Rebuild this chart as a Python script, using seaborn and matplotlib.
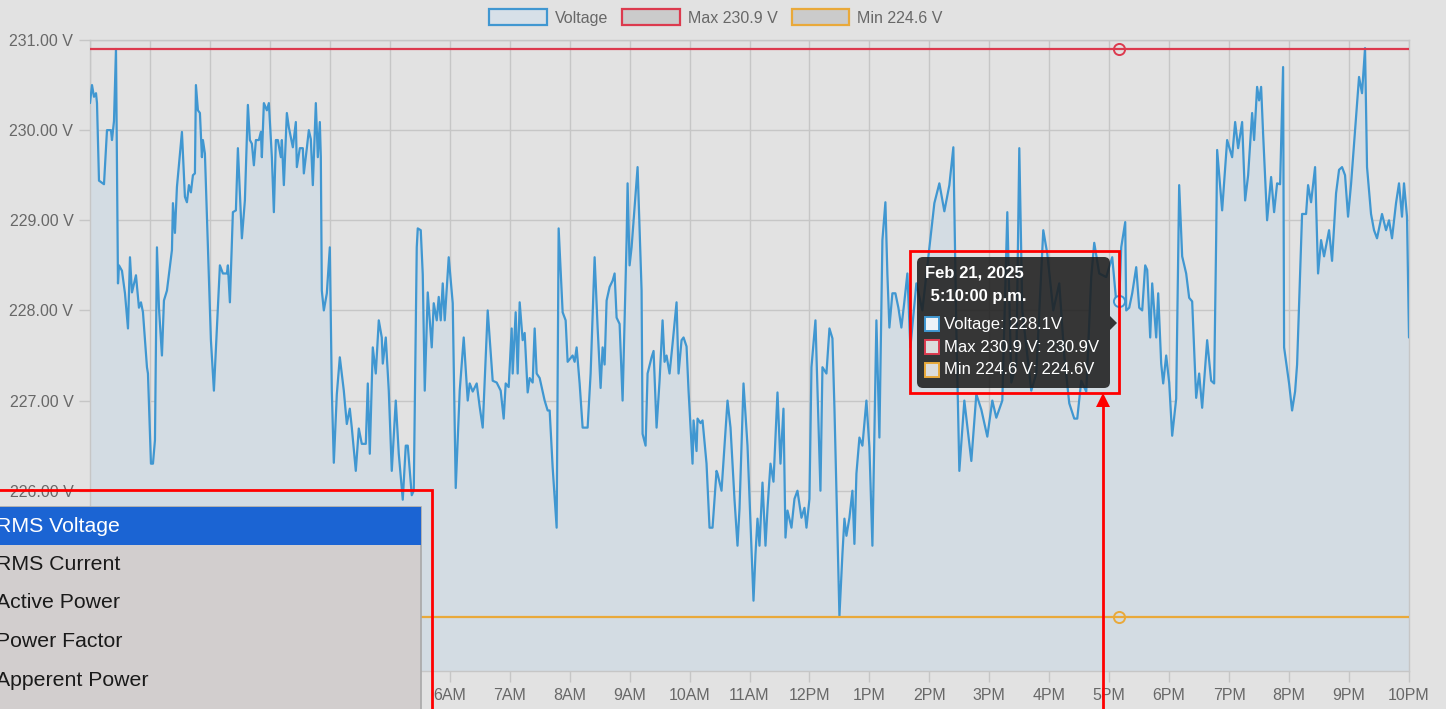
import numpy as np
import pandas as pd
import matplotlib
matplotlib.use("Agg")
import matplotlib.pyplot as plt
import seaborn as sns
from matplotlib.patches import Rectangle, FancyBboxPatch, Polygon, Patch

# RMS voltage readings, minutes after midnight (Feb 21, 2025)
minutes = [
    0, 2, 4, 6, 7, 9, 14, 17, 21, 22, 24, 26, 28, 29, 32, 35, 38, 40, 42, 46,
    49, 51, 53, 57, 58, 61, 63, 65, 67, 69, 72, 74, 77, 82, 83, 85, 87, 92, 95, 97,
    99, 101, 103, 105, 106, 108, 110, 112, 113, 115, 118, 121, 124, 130, 133, 137, 138, 140, 143, 146,
    148, 152, 155, 158, 160, 162, 164, 166, 169, 171, 172, 174, 177, 179, 182, 184, 186, 188, 191, 192,
    194, 197, 199, 203, 206, 207, 210, 213, 214, 217, 219, 221, 223, 226, 228, 230, 231, 232, 234, 237,
    240, 242, 244, 247, 250, 254, 257, 260, 262, 266, 269, 272, 276, 278, 280, 283, 286, 289, 292, 293,
    296, 299, 302, 306, 309, 313, 316, 318, 322, 324, 327, 328, 331, 333, 335, 338, 342, 344, 347, 349,
    351, 353, 355, 359, 363, 366, 370, 374, 378, 380, 383, 387, 390, 393, 398, 403, 407, 411, 414, 416,
    419, 422, 423, 426, 428, 430, 433, 435, 438, 440, 443, 445, 447, 450, 455, 458, 460, 463, 467, 469,
    473, 476, 478, 483, 485, 487, 490, 493, 498, 501, 505, 508, 511, 513, 515, 517, 520, 523, 525, 527,
    530, 533, 537, 538, 540, 542, 548, 552, 553, 556, 558, 562, 564, 567, 570, 573, 575, 577, 580, 583,
    587, 589, 592, 594, 597, 599, 603, 604, 607, 608, 611, 613, 617, 620, 623, 627, 628, 632, 638, 641,
    645, 648, 650, 654, 658, 664, 666, 668, 670, 673, 676, 678, 681, 684, 688, 691, 694, 696, 698, 702,
    705, 708, 712, 715, 717, 720, 722, 726, 728, 731, 733, 737, 740, 743, 745, 750, 753, 755, 757, 760,
    763, 765, 767, 770, 773, 777, 780, 783, 787, 790, 793, 796, 798, 800, 803, 806, 809, 812, 815, 818,
    821, 827, 833, 838, 845, 850, 855, 860, 864, 867, 870, 875, 882, 887, 892, 898, 903, 907, 913, 918,
    922, 927, 930, 933, 942, 947, 954, 958, 964, 970, 975, 980, 985, 988, 992, 997, 1002, 1005, 1010, 1017,
    1023, 1027, 1030, 1032, 1036, 1037, 1040, 1043, 1047, 1050, 1053, 1056, 1058, 1061, 1063, 1067, 1069, 1072, 1074, 1077,
    1080, 1083, 1087, 1090, 1093, 1097, 1100, 1103, 1107, 1110, 1113, 1118, 1122, 1125, 1127, 1128, 1133, 1138, 1143, 1146,
    1149, 1153, 1156, 1159, 1163, 1165, 1168, 1170, 1172, 1174, 1178, 1182, 1185, 1188, 1191, 1194, 1195, 1200, 1203, 1206,
    1208, 1213, 1217, 1219, 1222, 1226, 1229, 1232, 1235, 1240, 1243, 1247, 1250, 1253, 1256, 1259, 1262, 1266, 1270, 1273,
    1276, 1278, 1282, 1285, 1288, 1293, 1297, 1300, 1303, 1307, 1310, 1313, 1315, 1318, 1320,
]
volts = [
    230.30, 230.50, 230.37, 230.41, 230.30, 229.44, 229.40, 230.00, 230.00, 229.89, 230.10, 230.90, 228.30, 228.50, 228.44, 228.19, 227.80, 228.59, 228.20, 228.39,
    228.03, 228.09, 227.98, 227.37, 227.30, 226.30, 226.30, 226.56, 228.70, 228.03, 227.50, 228.11, 228.22, 228.67, 229.19, 228.86, 229.37, 229.98, 229.26, 229.20,
    229.39, 229.31, 229.50, 229.52, 230.50, 230.22, 230.19, 229.70, 229.89, 229.74, 228.70, 227.67, 227.11, 228.50, 228.41, 228.41, 228.50, 228.09, 229.09, 229.11,
    229.80, 228.80, 229.22, 230.28, 229.89, 229.85, 229.61, 229.89, 229.89, 229.98, 229.70, 230.30, 230.22, 230.30, 229.70, 229.09, 229.89, 229.89, 229.70, 229.89,
    229.39, 230.19, 230.03, 229.81, 230.09, 229.59, 229.80, 229.80, 229.52, 229.80, 230.00, 229.90, 229.39, 230.30, 229.70, 230.09, 229.70, 228.22, 228.00, 228.19,
    228.70, 227.11, 226.31, 227.07, 227.48, 227.11, 226.74, 226.91, 226.70, 226.22, 226.69, 226.52, 226.52, 227.19, 226.41, 227.59, 227.30, 227.89, 227.70, 227.41,
    227.70, 227.11, 226.22, 227.00, 226.41, 225.90, 226.50, 226.50, 225.95, 226.00, 228.70, 228.91, 228.89, 228.40, 227.11, 228.20, 227.59, 228.08, 227.89, 228.15,
    227.89, 228.30, 227.89, 228.59, 228.08, 226.03, 227.11, 227.70, 227.00, 227.19, 227.10, 227.19, 226.93, 226.70, 228.00, 227.22, 227.20, 227.11, 226.80, 227.19,
    227.15, 227.80, 227.30, 227.98, 227.30, 228.09, 227.67, 227.75, 227.09, 227.25, 227.20, 227.80, 227.30, 227.25, 227.00, 226.89, 226.89, 226.26, 225.59, 228.91,
    227.98, 227.89, 227.43, 227.50, 227.43, 227.59, 227.19, 226.70, 226.70, 227.30, 228.59, 227.81, 227.14, 227.59, 227.40, 228.11, 228.26, 228.33, 228.41, 227.92,
    227.85, 227.00, 228.78, 229.41, 228.50, 228.70, 229.59, 228.22, 226.63, 226.50, 227.30, 227.48, 227.55, 226.70, 227.22, 227.89, 227.43, 227.50, 227.30, 227.63,
    228.09, 227.30, 227.67, 227.70, 227.60, 227.11, 226.30, 226.78, 226.44, 226.80, 226.75, 226.78, 226.30, 225.59, 225.59, 226.22, 226.19, 226.00, 227.00, 226.70,
    225.90, 225.39, 225.80, 227.19, 226.50, 224.78, 225.30, 225.69, 225.39, 226.09, 225.39, 225.80, 226.30, 226.10, 227.09, 226.30, 226.91, 225.48, 225.78, 225.59,
    225.91, 226.00, 225.70, 225.81, 225.59, 225.91, 227.37, 227.89, 227.14, 226.00, 227.37, 227.30, 227.80, 227.69, 226.92, 224.61, 225.30, 225.69, 225.50, 225.70,
    226.00, 225.41, 226.19, 226.59, 226.50, 227.00, 226.48, 225.39, 227.89, 226.59, 228.78, 229.20, 228.40, 227.81, 228.19, 228.19, 228.03, 227.81, 228.10, 228.41,
    227.59, 228.30, 228.00, 228.50, 229.19, 229.41, 229.10, 229.39, 229.81, 227.80, 226.22, 227.00, 226.33, 227.07, 226.90, 226.60, 227.00, 226.81, 227.00, 229.09,
    227.20, 227.40, 229.80, 228.00, 227.11, 227.30, 228.89, 228.63, 228.00, 228.30, 227.50, 226.97, 226.80, 226.80, 227.22, 227.10, 228.37, 228.75, 228.41, 228.37,
    228.59, 228.10, 228.10, 228.70, 228.98, 228.00, 228.03, 228.19, 228.48, 228.03, 228.00, 228.50, 228.45, 227.70, 228.30, 227.70, 228.19, 227.41, 227.19, 227.50,
    227.20, 226.61, 227.02, 229.39, 228.60, 228.41, 228.14, 228.10, 227.03, 227.30, 226.92, 227.67, 227.22, 227.19, 228.78, 229.78, 229.11, 229.89, 229.70, 230.09,
    229.80, 230.09, 229.22, 229.50, 230.19, 229.89, 230.48, 230.33, 230.48, 229.96, 229.00, 229.48, 229.09, 229.41, 229.40, 230.70, 227.59, 227.19, 226.89, 227.10,
    227.40, 229.07, 229.07, 229.39, 229.20, 229.59, 228.41, 228.78, 228.60, 228.89, 228.55, 229.30, 229.56, 229.59, 229.50, 229.04, 229.40, 230.00, 230.59, 230.41,
    230.91, 229.59, 229.07, 228.89, 228.80, 229.07, 228.89, 229.00, 228.80, 229.19, 229.41, 229.04, 229.41, 229.04, 227.70,
]

max_v = 230.9
min_v = 224.6
hover_minute = 17 * 60 + 10
hover_volt = 228.1

hour_labels = ["12AM", "1AM", "2AM", "3AM", "4AM", "5AM", "6AM", "7AM", "8AM", "9AM", "10AM", "11AM",
               "12PM", "1PM", "2PM", "3PM", "4PM", "5PM", "6PM", "7PM", "8PM", "9PM", "10PM"]
y_ticks = [224, 225, 226, 227, 228, 229, 230, 231]
legend_labels = ["Voltage", "Max 230.9 V", "Min 224.6 V"]
tooltip_title = ["Feb 21, 2025", " 5:10:00 p.m."]
tooltip_rows = ["Voltage: 228.1V", "Max 230.9 V: 230.9V", "Min 224.6 V: 224.6V"]
menu_items = ["RMS Voltage", "RMS Current", "Active Power", "Power Factor", "Apperent Power"]

# colours
bg = "#e2e2e2"
fill_c = "#d3dce3"
grid_c = "#c6c6c6"
line_c = "#4097d1"
max_c = "#dc3a4e"
min_c = "#e9a93a"
txt_c = "#686868"

sns.set_style("whitegrid")
plt.rcParams["font.family"] = ["Liberation Sans", "DejaVu Sans"]

W, H = 1446, 709
fig = plt.figure(figsize=(W / 100, H / 100), dpi=100, facecolor=bg)
ax = fig.add_axes([90 / W, 1 - 671 / H, 1319 / W, 631 / H], facecolor=bg)

df = pd.DataFrame({"hour": np.array(minutes) / 60, "volt": volts})
ax.fill_between(df["hour"], df["volt"], y_ticks[0], color=fill_c, lw=0, zorder=1)
sns.lineplot(data=df, x="hour", y="volt", ax=ax, color=line_c, lw=1.6, zorder=3)
ax.axhline(max_v, color=max_c, lw=1.6, zorder=4)
ax.axhline(min_v, color=min_c, lw=1.6, zorder=4)

hover_h = hover_minute / 60
ax.plot(hover_h, max_v, "o", ms=8, mfc="none", mec=max_c, mew=1.4, zorder=5)
ax.plot(hover_h, min_v, "o", ms=8, mfc="none", mec=min_c, mew=1.4, zorder=5)
ax.plot(hover_h, hover_volt, "o", ms=8, mfc="#dbe6ef", mec=line_c, mew=1.4, zorder=5)

ax.set_xlim(0, 22)
ax.set_ylim(y_ticks[0], y_ticks[-1])
ax.set_xticks(range(len(hour_labels)))
ax.set_xticklabels(hour_labels)
ax.set_yticks(y_ticks)
ax.set_yticklabels([f"{v:.2f} V" for v in y_ticks])
ax.set_xlabel("")
ax.set_ylabel("")
ax.grid(True, color=grid_c, lw=1)
ax.tick_params(axis="both", length=8, width=1, color=grid_c, labelcolor=txt_c, labelsize=11.5, pad=4)
ax.tick_params(axis="x", bottom=True)
ax.tick_params(axis="y", left=True)
for s in ax.spines.values():
    s.set_color(grid_c)
    s.set_linewidth(1)

handles = [
    Patch(facecolor="#d7e0e8", edgecolor=line_c, lw=1.6),
    Patch(facecolor="#cbcbcb", edgecolor=max_c, lw=1.6),
    Patch(facecolor="#cbcbcb", edgecolor=min_c, lw=1.6),
]
fig.legend(handles, legend_labels, loc="upper center", bbox_to_anchor=(716 / W, 1 + 5 / H),
           ncol=3, frameon=False, fontsize=11.5, labelcolor=txt_c, handlelength=3.6,
           handleheight=1.15, handletextpad=0.5, columnspacing=0.9)

# overlay in pixel coordinates for tooltip, menu and annotations
ov = fig.add_axes([0, 0, 1, 1], zorder=10)
ov.set_xlim(0, W)
ov.set_ylim(H, 0)
ov.axis("off")
ov.patch.set_alpha(0)

# tooltip
ov.add_patch(FancyBboxPatch((917, 257), 193, 131, boxstyle="round,pad=0,rounding_size=6",
                            fc="#1e1e1e", ec="none", alpha=0.88))
ov.add_patch(Polygon([(1110, 316), (1117, 323), (1110, 330)], closed=True, fc="#1e1e1e", ec="none", alpha=0.88))
ov.text(925, 273, tooltip_title[0], color="white", fontsize=12, fontweight="bold", va="center")
ov.text(926, 297, tooltip_title[1], color="white", fontsize=12, fontweight="bold", va="center")
sq_faces = ["#eef3f8", "#dcdcdc", "#dcdcdc"]
sq_edges = [line_c, max_c, min_c]
for i, row in enumerate(tooltip_rows):
    yy = 324 + i * 23
    ov.add_patch(Rectangle((925, yy - 7), 14, 14, fc=sq_faces[i], ec=sq_edges[i], lw=1.4))
    ov.text(944, yy, row, color="white", fontsize=12, va="center")

# red annotation around tooltip with arrow
ov.add_patch(Rectangle((910, 251), 209, 142, fill=False, ec="red", lw=2))
ov.plot([1103, 1103], [H, 405], color="red", lw=2)
ov.add_patch(Polygon([(1096, 407), (1103, 393), (1110, 407)], closed=True, fc="red", ec="none"))

# dropdown menu
ov.add_patch(Rectangle((-2, 507), 423, 205, fc="#d2cece", ec="#a8a8a8", lw=1.2))
ov.add_patch(Rectangle((-2, 507), 423, 38, fc="#1b64d3", ec="none"))
for i, item in enumerate(menu_items):
    ov.text(-4, 526 + i * 38.5, item, fontsize=15.3, va="center",
            color="white" if i == 0 else "#1a1a1a")
ov.add_patch(Rectangle((-5, 490), 437, 240, fill=False, ec="red", lw=2))

fig.savefig("out.png", dpi=100, facecolor=bg)
